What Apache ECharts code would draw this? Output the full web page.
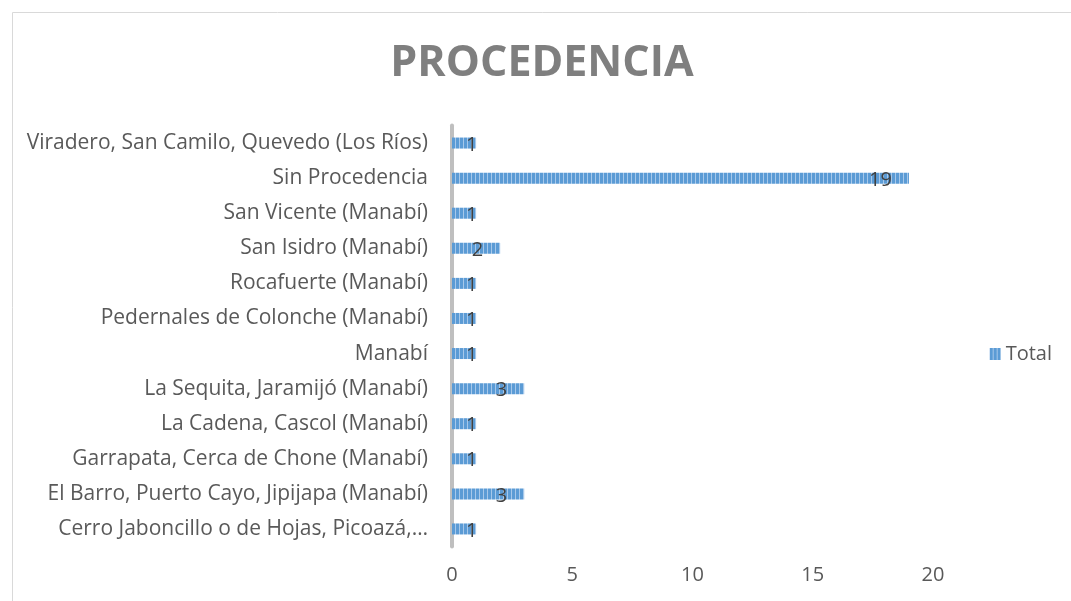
<!DOCTYPE html>
<html>
<head>
<meta charset="utf-8">
<script src="https://cdn.jsdelivr.net/npm/echarts@6/dist/echarts.min.js"></script>
<style>
  html, body { margin: 0; padding: 0; background: #fff; }
  #chart { width: 1071px; height: 601px; }
</style>
</head>
<body>
<div id="chart"></div>
<script>
// categories, bottom to top (as the y axis draws them)
const categories = [
  'Cerro Jaboncillo o de Hojas, Picoazá,…',
  'El Barro, Puerto Cayo, Jipijapa (Manabí)',
  'Garrapata, Cerca de Chone (Manabí)',
  'La Cadena, Cascol (Manabí)',
  'La Sequita, Jaramijó (Manabí)',
  'Manabí',
  'Pedernales de Colonche (Manabí)',
  'Rocafuerte (Manabí)',
  'San Isidro (Manabí)',
  'San Vicente (Manabí)',
  'Sin Procedencia',
  'Viradero, San Camilo, Quevedo (Los Ríos)'
]
const totals = [1, 3, 1, 1, 3, 1, 1, 1, 2, 1, 19, 1]

// striped fill like the excel pattern
function stripes () {
  const c = document.createElement('canvas')
  c.width = 4
  c.height = 4
  const ctx = c.getContext('2d')
  ctx.fillStyle = '#5B9BD5'
  ctx.fillRect(0, 0, 4, 4)
  ctx.fillStyle = '#A7C8EA'
  ctx.fillRect(3, 0, 1, 4)
  return c
}
const barFill = { image: stripes(), repeat: 'repeat' }

const font = '"Open Sans", sans-serif'

const chart = echarts.init(document.getElementById('chart'))
chart.setOption({
  animation: false,
  textStyle: { fontFamily: font },
  title: {
    text: 'PROCEDENCIA',
    left: 537,
    textAlign: 'center',
    top: 37,
    textStyle: {
      fontSize: 43,
      fontWeight: 'bold',
      color: '#7F7F7F',
      fontFamily: font
    }
  },
  graphic: [{
    type: 'rect',
    silent: true,
    shape: { x: 12.5, y: 12.5, width: 1200, height: 800 },
    style: { fill: 'none', stroke: '#D9D9D9', lineWidth: 1 }
  }],
  legend: {
    data: ['Total'],
    right: 14,
    top: 339,
    icon: 'rect',
    itemWidth: 11,
    itemHeight: 12,
    itemGap: 8,
    textStyle: { fontSize: 20, color: '#595959', fontFamily: font }
  },
  grid: {
    left: 452,
    right: 138,
    top: 125.5,
    bottom: 54.5,
    containLabel: false
  },
  xAxis: {
    type: 'value',
    min: 0,
    max: 20,
    interval: 5,
    axisLine: { show: false },
    axisTick: { show: false },
    splitLine: { show: false },
    axisLabel: {
      fontSize: 20,
      color: '#595959',
      margin: 19,
      fontFamily: font
    }
  },
  yAxis: {
    type: 'category',
    data: categories,
    axisLine: { show: true, lineStyle: { color: '#BFBFBF', width: 4 } },
    axisTick: { show: false },
    axisLabel: {
      fontSize: 21,
      color: '#595959',
      margin: 24,
      fontFamily: font
    }
  },
  series: [{
    name: 'Total',
    type: 'bar',
    barWidth: 11,
    data: totals.map(v => v === 1
      ? { value: v, label: { position: 'right', distance: 0, offset: [-10, 2] } }
      : v),
    itemStyle: { color: barFill },
    label: {
      show: true,
      position: 'insideRight',
      distance: 17,
      offset: [0, 2],
      fontSize: 20,
      color: '#404040',
      fontFamily: font
    }
  }]
})
</script>
</body>
</html>
